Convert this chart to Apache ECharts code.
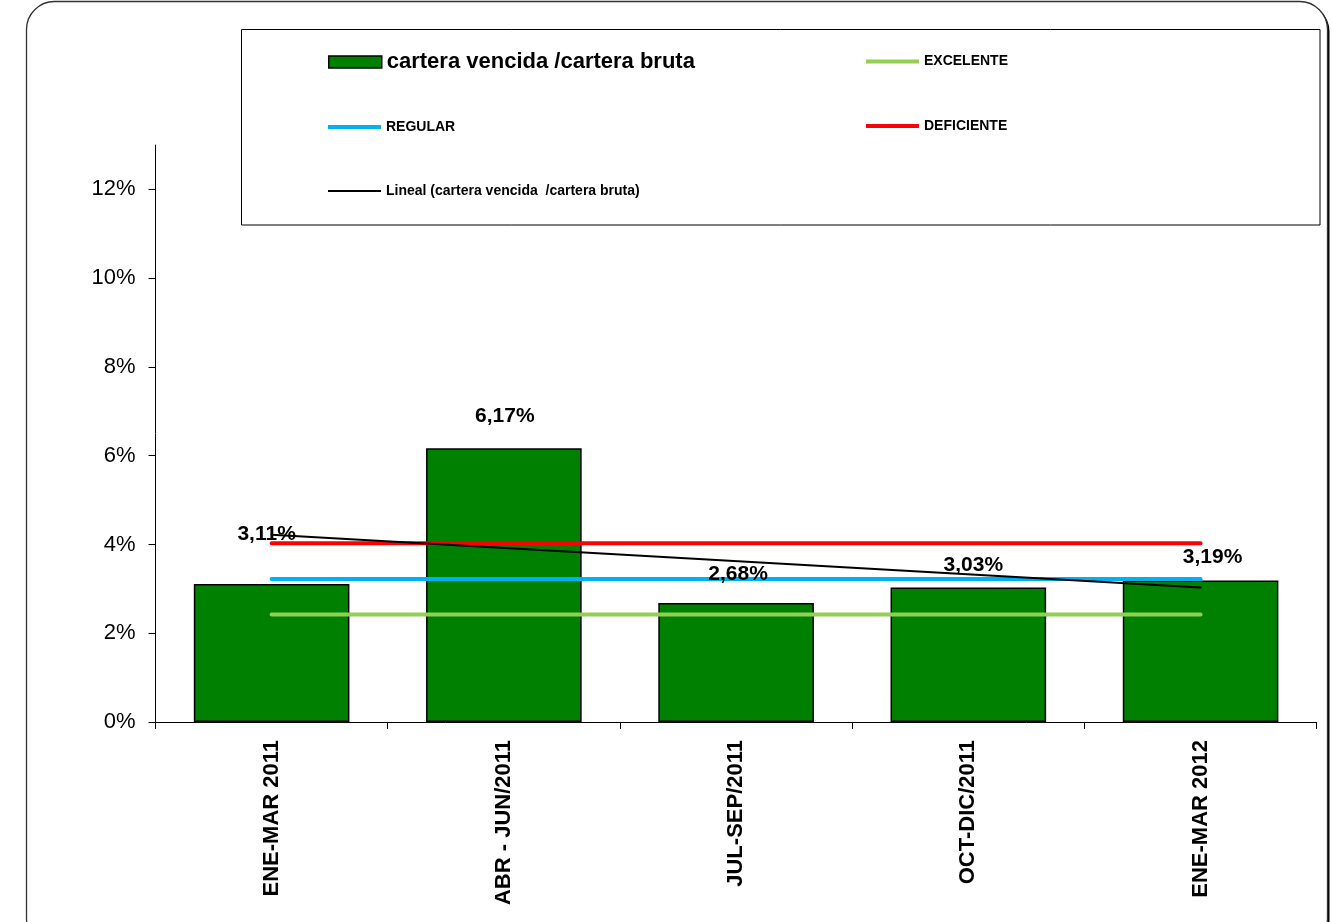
<!DOCTYPE html>
<html>
<head>
<meta charset="utf-8">
<script src="https://cdn.jsdelivr.net/npm/echarts@6/dist/echarts.min.js"></script>
<style>
html,body{margin:0;padding:0;background:#fff;}
#chart{width:1332px;height:922px;}
</style>
</head>
<body>
<div id="chart"></div>
<script>
// ---- data ----
var categories = ['ENE-MAR 2011', 'ABR - JUN/2011', 'JUL-SEP/2011', 'OCT-DIC/2011', 'ENE-MAR 2012'];
var carteraValues = [3.11, 6.17, 2.68, 3.03, 3.19];
var excelenteValues = [2.42, 2.42, 2.42, 2.42, 2.42];
var regularValues = [3.22, 3.22, 3.22, 3.22, 3.22];
var deficienteValues = [4.03, 4.03, 4.03, 4.03, 4.03];
var trendValues = [4.22, null, null, null, 3.03];
var yTicks = [0, 2, 4, 6, 8, 10, 12];

var seriesNames = {
  bar: 'cartera vencida /cartera bruta',
  exc: 'EXCELENTE',
  reg: 'REGULAR',
  def: 'DEFICIENTE',
  trend: 'Lineal (cartera vencida  /cartera bruta)'
};

// label placement tweaks (style only)
var labelOffsets = [[-5, -39], [1, -21], [2, -18], [5, -12], [12, -13]];

var font = 'Liberation Sans, Arial, sans-serif';

var labelData = carteraValues.map(function (v, i) {
  return { value: v, label: { offset: labelOffsets[i] } };
});

function lineSeries(name, data, color, width) {
  return {
    name: name,
    type: 'line',
    data: data,
    symbol: 'none',
    showSymbol: false,
    connectNulls: true,
    silent: true,
    lineStyle: { color: color, width: width, cap: 'round' },
    itemStyle: { color: color },
    z: 3
  };
}

function legendItem(name, left, top, opts) {
  return Object.assign({
    data: [name],
    left: left,
    top: top,
    padding: 0,
    orient: 'horizontal',
    selectedMode: false,
    itemWidth: 53,
    itemHeight: 4,
    icon: 'rect',
    textStyle: { fontFamily: font, fontSize: 14, fontWeight: 'bold', color: '#000' }
  }, opts || {});
}

var chart = echarts.init(document.getElementById('chart'), null, { renderer: 'canvas' });

chart.setOption({
  backgroundColor: '#fff',
  animation: false,
  graphic: [
    {
      type: 'rect',
      z: -12,
      silent: true,
      shape: { x: 28.5, y: 3.5, width: 1301, height: 945, r: 28 },
      style: { fill: '#000', stroke: null }
    },
    {
      type: 'rect',
      z: -10,
      silent: true,
      shape: { x: 26.5, y: 1.5, width: 1301, height: 945, r: 28 },
      style: { fill: '#fff', stroke: '#333', lineWidth: 1.3 }
    },
    {
      type: 'rect',
      z: -5,
      silent: true,
      shape: { x: 241.5, y: 29.5, width: 1078.5, height: 195.5 },
      style: { fill: '#fff', stroke: '#000', lineWidth: 1 }
    }
  ],
  legend: [
    legendItem(seriesNames.bar, 328, 51, {
      itemHeight: 12,
      icon: 'rect',
      itemStyle: { color: '#008000', borderColor: '#000', borderWidth: 1.5 },
      textStyle: { fontFamily: font, fontSize: 22, fontWeight: 'bold', color: '#000' }
    }),
    legendItem(seriesNames.exc, 866, 54.5, { itemStyle: { color: '#92D050' } }),
    legendItem(seriesNames.reg, 328, 120, { itemStyle: { color: '#00B0F0' } }),
    legendItem(seriesNames.def, 866, 119, { itemStyle: { color: '#FF0000' } }),
    legendItem(seriesNames.trend, 328, 184, { itemHeight: 2, itemStyle: { color: '#000' } })
  ],
  grid: {
    left: 155.5, right: 15.3, top: 145, bottom: 200,
    containLabel: false, outerBoundsMode: 'none'
  },
  xAxis: {
    type: 'category',
    data: categories,
    boundaryGap: true,
    axisLine: { show: true, lineStyle: { color: '#000', width: 1 } },
    axisTick: { show: true, length: 7, alignWithLabel: false, lineStyle: { color: '#000' } },
    axisLabel: {
      rotate: 90, margin: 18, interval: 0,
      fontFamily: font, fontSize: 22, fontWeight: 'bold', color: '#000'
    },
    splitLine: { show: false }
  },
  yAxis: {
    type: 'value',
    min: 0, max: 13, interval: 2,
    axisLine: { show: true, lineStyle: { color: '#000', width: 1 } },
    axisTick: { show: true, length: 7, customValues: yTicks, lineStyle: { color: '#000' } },
    axisLabel: {
      customValues: yTicks,
      margin: 20,
      fontFamily: font, fontSize: 22, color: '#000',
      formatter: function (v) { return v + '%'; }
    },
    splitLine: { show: false }
  },
  series: [
    {
      name: seriesNames.bar,
      type: 'bar',
      data: carteraValues,
      barWidth: '67%',
      itemStyle: { color: '#008000', borderColor: '#000', borderWidth: 1.5 },
      label: { show: false },
      z: 2
    },
    lineSeries(seriesNames.exc, excelenteValues, '#92D050', 4),
    lineSeries(seriesNames.reg, regularValues, '#00B0F0', 4),
    lineSeries(seriesNames.def, deficienteValues, '#FF0000', 4),
    lineSeries(seriesNames.trend, trendValues, '#000', 2),
    {
      name: 'labels',
      type: 'scatter',
      data: labelData,
      symbolSize: 0,
      silent: true,
      itemStyle: { color: 'rgba(0,0,0,0)', opacity: 1 },
      label: {
        show: true,
        position: 'top',
        distance: 0,
        opacity: 1,
        fontFamily: font, fontSize: 21, fontWeight: 'bold', color: '#000',
        formatter: function (p) { return p.value.toFixed(2).replace('.', ',') + '%'; }
      },
      z: 10
    }
  ]
});
</script>
</body>
</html>
